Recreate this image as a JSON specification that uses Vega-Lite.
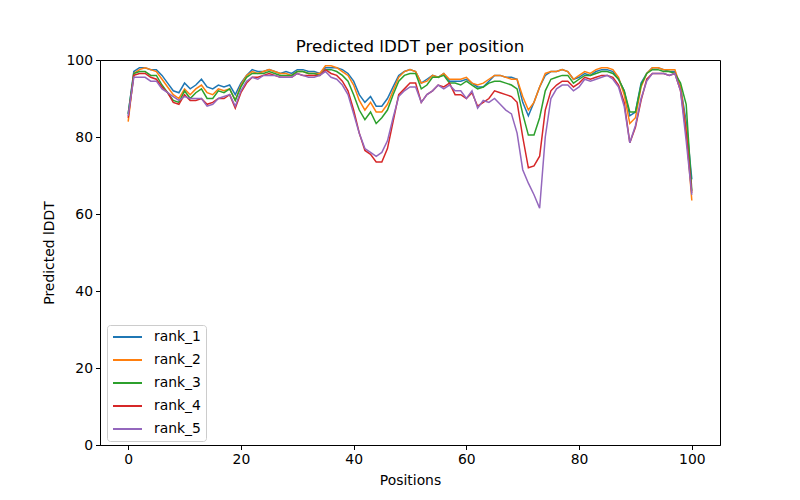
{
  "$schema": "https://vega.github.io/schema/vega-lite/v6.json",
  "width": 620,
  "height": 385,
  "autosize": "none",
  "padding": {"left": 100, "top": 60, "right": 80, "bottom": 55},
  "background": "white",
  "title": {"text": "Predicted lDDT per position", "font": "DejaVu Sans", "fontSize": 16.7, "fontWeight": "normal", "color": "black", "offset": -3},
  "config": {
    "view": {"stroke": "black", "strokeWidth": 1},
    "axis": {"labelFont": "DejaVu Sans", "titleFont": "DejaVu Sans", "labelFontSize": 13.9, "titleFontSize": 13.9, "titleFontWeight": "normal", "labelColor": "black", "titleColor": "black", "tickColor": "black", "domainColor": "black", "grid": false, "tickSize": 4.5, "labelPadding": 3}
  },
  "data": {"values": [
    {"pos":0,"rank_1":86,"rank_2":84,"rank_3":86,"rank_4":85,"rank_5":85.5},
    {"pos":1,"rank_1":97,"rank_2":96.5,"rank_3":96.5,"rank_4":96,"rank_5":95.5},
    {"pos":2,"rank_1":98,"rank_2":97.5,"rank_3":97,"rank_4":96.5,"rank_5":95.5},
    {"pos":3,"rank_1":98,"rank_2":98,"rank_3":97,"rank_4":96.5,"rank_5":95.5},
    {"pos":4,"rank_1":97.5,"rank_2":97.5,"rank_3":96,"rank_4":95.5,"rank_5":94.5},
    {"pos":5,"rank_1":97.5,"rank_2":97,"rank_3":96,"rank_4":95,"rank_5":94.5},
    {"pos":6,"rank_1":96,"rank_2":95,"rank_3":93.5,"rank_4":93,"rank_5":92.5},
    {"pos":7,"rank_1":94,"rank_2":93,"rank_3":91.5,"rank_4":91.5,"rank_5":91.5},
    {"pos":8,"rank_1":92,"rank_2":91,"rank_3":89.5,"rank_4":89,"rank_5":90.5},
    {"pos":9,"rank_1":91.5,"rank_2":90,"rank_3":89,"rank_4":88.5,"rank_5":89.5},
    {"pos":10,"rank_1":94,"rank_2":92.5,"rank_3":92,"rank_4":91,"rank_5":90.5},
    {"pos":11,"rank_1":92.5,"rank_2":91,"rank_3":90,"rank_4":89.5,"rank_5":90},
    {"pos":12,"rank_1":93.5,"rank_2":92.5,"rank_3":91.5,"rank_4":89.5,"rank_5":90},
    {"pos":13,"rank_1":95,"rank_2":93.5,"rank_3":92.5,"rank_4":90,"rank_5":90},
    {"pos":14,"rank_1":93,"rank_2":91.5,"rank_3":90,"rank_4":88.5,"rank_5":88},
    {"pos":15,"rank_1":92.5,"rank_2":91,"rank_3":90,"rank_4":89,"rank_5":88.5},
    {"pos":16,"rank_1":93.5,"rank_2":92.5,"rank_3":92,"rank_4":90,"rank_5":90},
    {"pos":17,"rank_1":93,"rank_2":92,"rank_3":91.5,"rank_4":90,"rank_5":90.5},
    {"pos":18,"rank_1":93.5,"rank_2":92.5,"rank_3":92.5,"rank_4":91,"rank_5":91},
    {"pos":19,"rank_1":91,"rank_2":89.5,"rank_3":89.5,"rank_4":87.5,"rank_5":88},
    {"pos":20,"rank_1":94,"rank_2":93.5,"rank_3":93,"rank_4":91.5,"rank_5":92},
    {"pos":21,"rank_1":96,"rank_2":96,"rank_3":95.5,"rank_4":94,"rank_5":94.5},
    {"pos":22,"rank_1":97.5,"rank_2":97,"rank_3":96.5,"rank_4":95.5,"rank_5":95.5},
    {"pos":23,"rank_1":97,"rank_2":96.5,"rank_3":96.5,"rank_4":95.5,"rank_5":95},
    {"pos":24,"rank_1":97,"rank_2":97,"rank_3":96.5,"rank_4":96,"rank_5":96},
    {"pos":25,"rank_1":97.5,"rank_2":97.5,"rank_3":97,"rank_4":96.5,"rank_5":96},
    {"pos":26,"rank_1":97,"rank_2":97,"rank_3":96.5,"rank_4":96,"rank_5":96},
    {"pos":27,"rank_1":96.5,"rank_2":96.5,"rank_3":96,"rank_4":95.5,"rank_5":95.5},
    {"pos":28,"rank_1":97,"rank_2":96.5,"rank_3":96,"rank_4":95.5,"rank_5":95.5},
    {"pos":29,"rank_1":96.5,"rank_2":96,"rank_3":96,"rank_4":95.5,"rank_5":95.5},
    {"pos":30,"rank_1":97.5,"rank_2":97,"rank_3":97,"rank_4":96.5,"rank_5":96.5},
    {"pos":31,"rank_1":97.5,"rank_2":97,"rank_3":97,"rank_4":96,"rank_5":96},
    {"pos":32,"rank_1":97,"rank_2":96.5,"rank_3":96.5,"rank_4":96,"rank_5":95.5},
    {"pos":33,"rank_1":97,"rank_2":96.5,"rank_3":96.5,"rank_4":96,"rank_5":95.5},
    {"pos":34,"rank_1":96.5,"rank_2":96.5,"rank_3":96,"rank_4":96,"rank_5":96},
    {"pos":35,"rank_1":98,"rank_2":98.5,"rank_3":97.5,"rank_4":97.5,"rank_5":97},
    {"pos":36,"rank_1":98,"rank_2":98.5,"rank_3":97.5,"rank_4":96.5,"rank_5":95.5},
    {"pos":37,"rank_1":98,"rank_2":98,"rank_3":97,"rank_4":96,"rank_5":95},
    {"pos":38,"rank_1":97.5,"rank_2":97,"rank_3":96,"rank_4":94.5,"rank_5":93.5},
    {"pos":39,"rank_1":96.5,"rank_2":96,"rank_3":94.5,"rank_4":92,"rank_5":91},
    {"pos":40,"rank_1":94.5,"rank_2":93.5,"rank_3":91,"rank_4":87,"rank_5":86},
    {"pos":41,"rank_1":91,"rank_2":89.5,"rank_3":87,"rank_4":81,"rank_5":81},
    {"pos":42,"rank_1":89,"rank_2":87,"rank_3":84.5,"rank_4":76.5,"rank_5":77},
    {"pos":43,"rank_1":90.5,"rank_2":89,"rank_3":86.5,"rank_4":75.5,"rank_5":76},
    {"pos":44,"rank_1":88,"rank_2":86.5,"rank_3":83.5,"rank_4":73.5,"rank_5":75},
    {"pos":45,"rank_1":88,"rank_2":86.5,"rank_3":85,"rank_4":73.5,"rank_5":76},
    {"pos":46,"rank_1":90,"rank_2":88.5,"rank_3":87,"rank_4":77,"rank_5":79},
    {"pos":47,"rank_1":93,"rank_2":92,"rank_3":91,"rank_4":84,"rank_5":85},
    {"pos":48,"rank_1":96,"rank_2":95.5,"rank_3":94.5,"rank_4":91,"rank_5":90.5},
    {"pos":49,"rank_1":97,"rank_2":97,"rank_3":96,"rank_4":92.5,"rank_5":92},
    {"pos":50,"rank_1":97.5,"rank_2":97.5,"rank_3":96.5,"rank_4":94,"rank_5":93},
    {"pos":51,"rank_1":97,"rank_2":97,"rank_3":96.5,"rank_4":94,"rank_5":93},
    {"pos":52,"rank_1":94,"rank_2":94,"rank_3":92.5,"rank_4":89,"rank_5":89},
    {"pos":53,"rank_1":95,"rank_2":94.5,"rank_3":93.5,"rank_4":91,"rank_5":91},
    {"pos":54,"rank_1":96,"rank_2":96,"rank_3":95.5,"rank_4":92,"rank_5":92},
    {"pos":55,"rank_1":95.5,"rank_2":95.5,"rank_3":95.5,"rank_4":93.5,"rank_5":93.5},
    {"pos":56,"rank_1":96.5,"rank_2":96.5,"rank_3":96,"rank_4":93,"rank_5":92.5},
    {"pos":57,"rank_1":94.5,"rank_2":95,"rank_3":94,"rank_4":94,"rank_5":93.5},
    {"pos":58,"rank_1":94.5,"rank_2":95,"rank_3":94,"rank_4":91,"rank_5":92},
    {"pos":59,"rank_1":94.5,"rank_2":95,"rank_3":93.5,"rank_4":91,"rank_5":92},
    {"pos":60,"rank_1":95,"rank_2":95.5,"rank_3":94.5,"rank_4":90,"rank_5":90},
    {"pos":61,"rank_1":94,"rank_2":94,"rank_3":93.5,"rank_4":91.5,"rank_5":92},
    {"pos":62,"rank_1":93,"rank_2":93.5,"rank_3":92.5,"rank_4":88,"rank_5":87.5},
    {"pos":63,"rank_1":93,"rank_2":94,"rank_3":93,"rank_4":89,"rank_5":89.5},
    {"pos":64,"rank_1":94.5,"rank_2":95,"rank_3":94,"rank_4":90,"rank_5":89},
    {"pos":65,"rank_1":96,"rank_2":96,"rank_3":94.5,"rank_4":92,"rank_5":90},
    {"pos":66,"rank_1":96,"rank_2":96,"rank_3":94.5,"rank_4":91.5,"rank_5":88.5},
    {"pos":67,"rank_1":95.5,"rank_2":95.5,"rank_3":94,"rank_4":91,"rank_5":87},
    {"pos":68,"rank_1":95.5,"rank_2":95,"rank_3":93.5,"rank_4":90.5,"rank_5":86},
    {"pos":69,"rank_1":95,"rank_2":95,"rank_3":92.5,"rank_4":89,"rank_5":81},
    {"pos":70,"rank_1":89,"rank_2":90.5,"rank_3":86,"rank_4":80,"rank_5":71.5},
    {"pos":71,"rank_1":85.5,"rank_2":87,"rank_3":80.5,"rank_4":72,"rank_5":68},
    {"pos":72,"rank_1":89,"rank_2":89,"rank_3":80.5,"rank_4":72.5,"rank_5":65},
    {"pos":73,"rank_1":93,"rank_2":93,"rank_3":85,"rank_4":75,"rank_5":61.5},
    {"pos":74,"rank_1":96,"rank_2":96.5,"rank_3":92,"rank_4":87,"rank_5":80},
    {"pos":75,"rank_1":97,"rank_2":97,"rank_3":95,"rank_4":92,"rank_5":90},
    {"pos":76,"rank_1":97,"rank_2":97,"rank_3":95.5,"rank_4":93.5,"rank_5":92.5},
    {"pos":77,"rank_1":97.5,"rank_2":97.5,"rank_3":96,"rank_4":94.5,"rank_5":93.5},
    {"pos":78,"rank_1":97,"rank_2":97,"rank_3":96,"rank_4":94.5,"rank_5":93.5},
    {"pos":79,"rank_1":95,"rank_2":95,"rank_3":94,"rank_4":93,"rank_5":92},
    {"pos":80,"rank_1":95.5,"rank_2":96,"rank_3":95,"rank_4":94,"rank_5":93},
    {"pos":81,"rank_1":96.5,"rank_2":97,"rank_3":96,"rank_4":95.5,"rank_5":95},
    {"pos":82,"rank_1":96,"rank_2":96.5,"rank_3":96,"rank_4":95,"rank_5":94.5},
    {"pos":83,"rank_1":97,"rank_2":97.5,"rank_3":96.5,"rank_4":95.5,"rank_5":95},
    {"pos":84,"rank_1":97.5,"rank_2":98,"rank_3":97,"rank_4":96,"rank_5":95.5},
    {"pos":85,"rank_1":97.5,"rank_2":98,"rank_3":97,"rank_4":96,"rank_5":96},
    {"pos":86,"rank_1":97,"rank_2":97.5,"rank_3":96.5,"rank_4":95.5,"rank_5":95},
    {"pos":87,"rank_1":95,"rank_2":95.5,"rank_3":95,"rank_4":93.5,"rank_5":93},
    {"pos":88,"rank_1":92,"rank_2":91,"rank_3":92,"rank_4":89,"rank_5":88},
    {"pos":89,"rank_1":85.5,"rank_2":83.5,"rank_3":86.5,"rank_4":78.5,"rank_5":78.5},
    {"pos":90,"rank_1":86.5,"rank_2":85,"rank_3":86.5,"rank_4":82.5,"rank_5":83},
    {"pos":91,"rank_1":94,"rank_2":93,"rank_3":93.5,"rank_4":89.5,"rank_5":90},
    {"pos":92,"rank_1":96.5,"rank_2":96.5,"rank_3":96.5,"rank_4":95,"rank_5":94.5},
    {"pos":93,"rank_1":98,"rank_2":98,"rank_3":97.5,"rank_4":96.5,"rank_5":96.5},
    {"pos":94,"rank_1":98,"rank_2":98,"rank_3":97.5,"rank_4":96.5,"rank_5":96.5},
    {"pos":95,"rank_1":97.5,"rank_2":97.5,"rank_3":97,"rank_4":96.5,"rank_5":96.5},
    {"pos":96,"rank_1":97,"rank_2":97.5,"rank_3":97,"rank_4":96,"rank_5":96},
    {"pos":97,"rank_1":97,"rank_2":97.5,"rank_3":96.5,"rank_4":96.5,"rank_5":96.5},
    {"pos":98,"rank_1":93,"rank_2":93,"rank_3":94,"rank_4":92,"rank_5":92},
    {"pos":99,"rank_1":84,"rank_2":82,"rank_3":88.5,"rank_4":81,"rank_5":79},
    {"pos":100,"rank_1":69,"rank_2":63.5,"rank_3":66,"rank_4":65.5,"rank_5":65}
  ]},
  "transform": [{"fold": ["rank_1", "rank_2", "rank_3", "rank_4", "rank_5"], "as": ["rank", "value"]}],
  "mark": {"type": "line", "strokeWidth": 1.5, "clip": true},
  "encoding": {
    "x": {"field": "pos", "type": "quantitative", "title": "Positions",
          "scale": {"domain": [-5, 105], "nice": false, "zero": false},
          "axis": {"values": [0, 20, 40, 60, 80, 100], "titlePadding": 7}},
    "y": {"field": "value", "type": "quantitative", "title": "Predicted lDDT",
          "scale": {"domain": [0, 100], "nice": false},
          "axis": {"values": [0, 20, 40, 60, 80, 100], "titlePadding": 9}},
    "color": {"field": "rank", "type": "nominal", "title": null,
              "scale": {"domain": ["rank_1", "rank_2", "rank_3", "rank_4", "rank_5"],
                        "range": ["#1f77b4", "#ff7f0e", "#2ca02c", "#d62728", "#9467bd"]},
              "legend": {"orient": "none", "legendX": 7, "legendY": 265,
                         "symbolType": "stroke", "symbolSize": 841, "symbolStrokeWidth": 2, "clipHeight": 14,
                         "labelFont": "DejaVu Sans", "labelFontSize": 13.9, "labelColor": "black",
                         "rowPadding": 9, "padding": 5, "strokeColor": "#cccccc", "fillColor": "white",
                         "cornerRadius": 3, "labelOffset": 11}}
  }
}
